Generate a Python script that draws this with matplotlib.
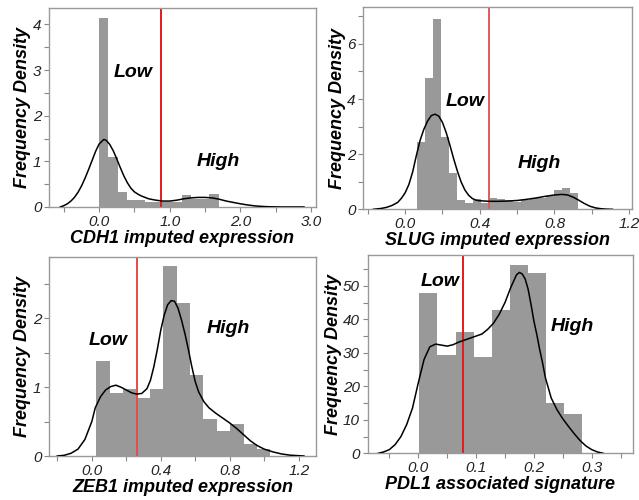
import matplotlib
matplotlib.use("Agg")
import matplotlib.pyplot as plt
import numpy as np
from matplotlib.ticker import MultipleLocator, FormatStrFormatter

plt.rcParams['font.family'] = ['Liberation Sans', 'DejaVu Sans']

# ---- CDH1 ----
cdh1_bins = (0.0, 1.69)
cdh1_hist = [4.15, 1.10, 0.335, 0.15, 0.15, 0.12, 0.10, 0.10, 0.12, 0.26, 0.18, 0.18, 0.28]
cdh1_kde_x = [-0.55, -0.5, -0.45, -0.4, -0.35, -0.3, -0.25, -0.2, -0.15, -0.1, -0.05, 0.0,
              0.066, 0.1, 0.15, 0.2, 0.25, 0.3, 0.35, 0.4, 0.45, 0.5, 0.55, 0.6, 0.7,
              0.8, 0.9, 1.0, 1.1, 1.2, 1.3, 1.4, 1.5, 1.6, 1.7, 1.8, 1.9, 2.0, 2.1,
              2.2, 2.3, 2.4, 2.5, 2.6, 2.9]
cdh1_kde_y = [0.0, 0.03, 0.07, 0.13, 0.21, 0.32, 0.46, 0.63, 0.82, 1.02, 1.22, 1.38,
              1.48, 1.46, 1.37, 1.23, 1.05, 0.86, 0.68, 0.53, 0.41, 0.33, 0.28, 0.24, 0.18,
              0.15, 0.13, 0.13, 0.15, 0.18, 0.20, 0.21, 0.21, 0.20, 0.17, 0.13, 0.10, 0.07, 0.045,
              0.025, 0.013, 0.006, 0.002, 0.0, 0.0]
cdh1_cut = 0.88

# ---- SLUG ----
slug_bins = (0.062, 0.925)
slug_hist = [2.43, 4.77, 6.92, 2.63, 1.30, 0.34, 0.22, 0.36, 0.24, 0.40, 0.37, 0.34, 0.28,
             0.34, 0.40, 0.42, 0.50, 0.70, 0.78, 0.60]
slug_kde_x = [-0.17, -0.13, -0.10, -0.07, -0.04, -0.02, 0.0, 0.02, 0.04, 0.06, 0.08, 0.10,
              0.12, 0.14, 0.16, 0.18, 0.20, 0.22, 0.24, 0.26, 0.28, 0.30, 0.32, 0.34, 0.36,
              0.38, 0.40, 0.45, 0.50, 0.55, 0.60, 0.65, 0.70, 0.75, 0.80, 0.84, 0.87, 0.90,
              0.93, 0.96, 0.99, 1.02, 1.05, 1.08, 1.11]
slug_kde_y = [0.0, 0.03, 0.07, 0.14, 0.25, 0.40, 0.60, 0.90, 1.35, 1.95, 2.50, 2.90,
              3.20, 3.40, 3.45, 3.38, 3.15, 2.78, 2.32, 1.83, 1.38, 0.99, 0.70, 0.51, 0.39,
              0.33, 0.31, 0.29, 0.29, 0.30, 0.32, 0.36, 0.41, 0.47, 0.52, 0.54, 0.52, 0.44,
              0.33, 0.21, 0.11, 0.05, 0.02, 0.005, 0.0]
slug_cut = 0.45

# ---- ZEB1 ----
zeb1_bins = (0.025, 1.036)
zeb1_hist = [1.38, 0.91, 0.98, 0.84, 0.97, 2.76, 2.22, 1.18, 0.54, 0.37, 0.47, 0.17, 0.10]
zeb1_kde_x = [-0.20, -0.16, -0.12, -0.08, -0.04, 0.0, 0.02, 0.05, 0.08, 0.11, 0.14, 0.17,
              0.20, 0.23, 0.26, 0.29, 0.32, 0.34, 0.36, 0.38, 0.40, 0.42, 0.44, 0.46, 0.48,
              0.50, 0.52, 0.54, 0.56, 0.58, 0.60, 0.62, 0.65, 0.68, 0.72, 0.76, 0.80, 0.84,
              0.88, 0.92, 0.96, 1.00, 1.05, 1.10, 1.15, 1.23]
zeb1_kde_y = [0.0, 0.01, 0.04, 0.10, 0.24, 0.50, 0.70, 0.86, 0.96, 1.01, 1.03, 1.00,
              0.96, 0.92, 0.90, 0.91, 0.98, 1.10, 1.30, 1.55, 1.83, 2.05, 2.20, 2.26, 2.25,
              2.15, 1.98, 1.78, 1.55, 1.30, 1.08, 0.93, 0.79, 0.70, 0.62, 0.55, 0.48, 0.40,
              0.31, 0.22, 0.15, 0.10, 0.06, 0.03, 0.012, 0.0]
zeb1_cut = 0.265

# ---- PDL1 ----
pdl1_bins = (0.002, 0.283)
pdl1_hist = [47.8, 29.4, 36.1, 28.6, 42.8, 56.3, 53.8, 15.1, 11.7]
pdl1_kde_x = [-0.069, -0.06, -0.05, -0.04, -0.03, -0.02, -0.01, 0.0, 0.01, 0.02, 0.03, 0.04,
              0.05, 0.06, 0.07, 0.08, 0.09, 0.10, 0.11, 0.12, 0.13, 0.14, 0.15, 0.16, 0.17,
              0.175, 0.18, 0.185, 0.19, 0.195, 0.20, 0.205, 0.21, 0.215, 0.22, 0.23, 0.24,
              0.25, 0.26, 0.27, 0.28, 0.29, 0.30, 0.31, 0.32]
pdl1_kde_y = [0.0, 0.4, 1.1, 2.6, 5.0, 8.6, 13.5, 21.0, 28.0, 31.8, 32.6, 32.3,
              32.0, 32.4, 33.2, 33.8, 34.4, 35.0, 35.6, 37.0, 38.8, 41.5, 45.0, 49.5, 53.3,
              54.0, 53.5, 52.0, 49.0, 44.5, 39.5, 35.5, 31.0, 27.0, 22.5, 16.5, 13.0,
              10.3, 8.0, 5.8, 3.8, 2.2, 1.1, 0.4, 0.0]
pdl1_cut = 0.077

panels = [
    dict(bins=cdh1_bins, hist=cdh1_hist, kx=cdh1_kde_x, ky=cdh1_kde_y, cut=cdh1_cut,
         xlabel="CDH1 imputed expression", xlim=(-0.71, 3.07), ylim=(0, 4.37),
         xmaj=1.0, xmin=0.5, ymaj=1, ymin=0.5, xfmt="%.1f", yfmt="%d",
         low=(0.48, 2.95), high=(1.69, 0.99), cut_color="#e31a1c",
         rect=[0.0767, 0.586, 0.4178, 0.399]),
    dict(bins=slug_bins, hist=slug_hist, kx=slug_kde_x, ky=slug_kde_y, cut=slug_cut,
         xlabel="SLUG imputed expression", xlim=(-0.224, 1.215), ylim=(0, 7.32),
         xmaj=0.4, xmin=0.2, ymaj=2, ymin=1, xfmt="%.1f", yfmt="%d",
         low=(0.32, 3.9), high=(0.72, 1.67), cut_color="#e05a5a",
         rect=[0.5686, 0.5814, 0.4204, 0.4036]),
    dict(bins=zeb1_bins, hist=zeb1_hist, kx=zeb1_kde_x, ky=zeb1_kde_y, cut=zeb1_cut,
         xlabel="ZEB1 imputed expression", xlim=(-0.248, 1.30), ylim=(0, 2.89),
         xmaj=0.4, xmin=0.2, ymaj=1, ymin=0.5, xfmt="%.1f", yfmt="%d",
         low=(0.097, 1.68), high=(0.794, 1.85), cut_color="#e84a4a",
         rect=[0.0767, 0.088, 0.4178, 0.3974]),
    dict(bins=pdl1_bins, hist=pdl1_hist, kx=pdl1_kde_x, ky=pdl1_kde_y, cut=pdl1_cut,
         xlabel="PDL1 associated signature", xlim=(-0.0875, 0.372), ylim=(0, 59.2),
         xmaj=0.1, xmin=0.05, ymaj=10, ymin=5, xfmt="%.1f", yfmt="%d",
         low=(0.0375, 51.3), high=(0.267, 38.0), cut_color="#e31a1c",
         rect=[0.5754, 0.0934, 0.4157, 0.3966]),
]

fig = plt.figure(figsize=(6.39, 5.0), dpi=100)

for p in panels:
    ax = fig.add_axes(p["rect"])
    n = len(p["hist"])
    edges = np.linspace(p["bins"][0], p["bins"][1], n + 1)
    ax.bar(edges[:-1], p["hist"], width=np.diff(edges), align="edge",
           color="#999999", edgecolor="none", zorder=1)
    ax.plot(p["kx"], p["ky"], color="black", lw=1.1, zorder=3)
    ax.axvline(p["cut"], color=p["cut_color"], lw=1.4, zorder=2)

    ax.set_xlim(*p["xlim"])
    ax.set_ylim(*p["ylim"])
    ax.xaxis.set_major_locator(MultipleLocator(p["xmaj"]))
    ax.xaxis.set_minor_locator(MultipleLocator(p["xmin"]))
    ax.yaxis.set_major_locator(MultipleLocator(p["ymaj"]))
    ax.yaxis.set_minor_locator(MultipleLocator(p["ymin"]))
    ax.xaxis.set_major_formatter(FormatStrFormatter(p["xfmt"]))
    ax.yaxis.set_major_formatter(FormatStrFormatter(p["yfmt"]))
    ax.tick_params(which="both", length=3.5, width=0.8, color="#888888",
                   labelcolor="#222222", labelsize=11, pad=2)
    for lab in ax.get_xticklabels() + ax.get_yticklabels():
        lab.set_fontstyle("italic")
    for s in ax.spines.values():
        s.set_color("#999999")
        s.set_linewidth(1.0)

    ax.set_xlabel(p["xlabel"], fontsize=13, fontweight="bold", fontstyle="italic", labelpad=1)
    ax.set_ylabel("Frequency Density", fontsize=13, fontweight="bold", fontstyle="italic",
                  labelpad=1)
    ax.text(p["low"][0], p["low"][1], "Low", fontsize=14, fontweight="bold",
            fontstyle="italic", ha="center", va="center", zorder=4)
    ax.text(p["high"][0], p["high"][1], "High", fontsize=14, fontweight="bold",
            fontstyle="italic", ha="center", va="center", zorder=4)

fig.savefig("out.png", dpi=100)
